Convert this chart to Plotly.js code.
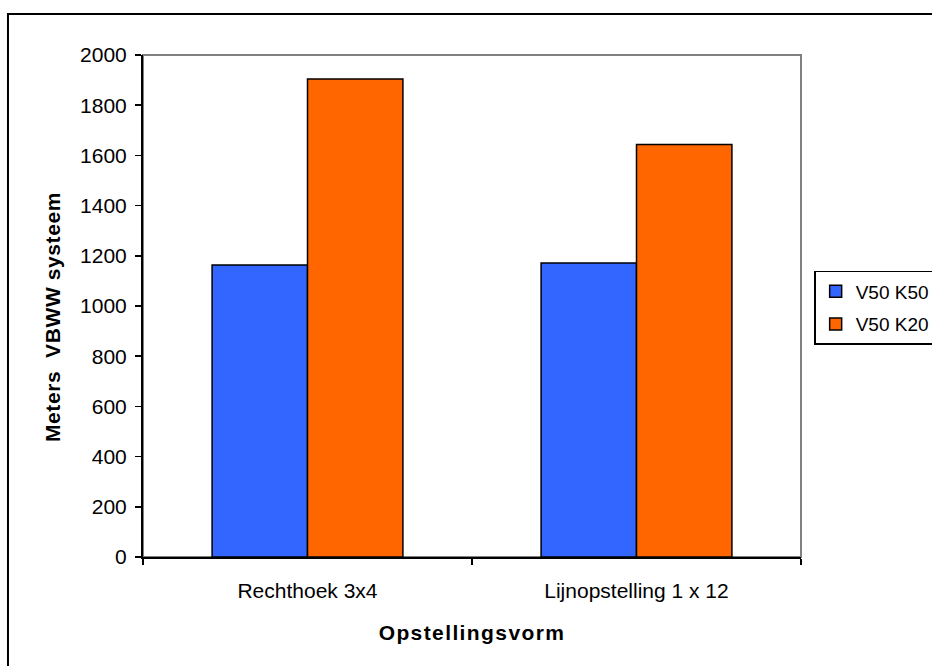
<!DOCTYPE html>
<html>
<head>
<meta charset="utf-8">
<script src="https://cdn.plot.ly/plotly-3.0.1.min.js"></script>
<style>
html,body{margin:0;padding:0;background:#fff;overflow:hidden;}
#chart{width:932px;height:666px;}
.xtitle {letter-spacing: 1.4px;}
.annotation-text {letter-spacing: 0.6px;}
</style>
</head>
<body>
<div id="chart"></div>
<script>
const categories = ["Rechthoek 3x4", "Lijnopstelling 1 x 12"];
const seriesNames = ["V50 K50", "V50 K20"];
const valuesK50 = [1163, 1171];
const valuesK20 = [1904, 1643];
const yTicks = [0, 200, 400, 600, 800, 1000, 1200, 1400, 1600, 1800, 2000];
const yTitle = "Meters  VBWW systeem";
const xTitle = "Opstellingsvorm";

const fam = "Liberation Sans, Arial, sans-serif";
const font = {family: fam, size: 21, color: "#000"};

const traces = [
  {type: "bar", name: seriesNames[0], x: categories, y: valuesK50,
   marker: {color: "#3366FF", line: {color: "#000", width: 1.5}}, legendgroup: "a"},
  {type: "bar", name: seriesNames[1], x: categories, y: valuesK20,
   marker: {color: "#FF6600", line: {color: "#000", width: 1.5}}, legendgroup: "b"}
];

const layout = {
  width: 932, height: 666,
  margin: {l: 143, r: 131, t: 55, b: 109, autoexpand: false},
  paper_bgcolor: "#fff", plot_bgcolor: "#fff",
  font: font,
  barmode: "group", bargap: 0.42, bargroupgap: 0,
  showlegend: true,
  legend: {x: 1.02, y: 0.57, xanchor: "left", yanchor: "top",
    bordercolor: "#000", borderwidth: 1.5, bgcolor: "#fff",
    font: {family: fam, size: 19, color: "#000"},
    traceorder: "grouped", tracegroupgap: 5, itemclick: false},
  xaxis: {
    type: "category", showline: true, linecolor: "#000", linewidth: 2,
    ticks: "outside", tickson: "boundaries", ticklen: 6, tickcolor: "#000", tickwidth: 1.5,
    ticklabelstandoff: 14,
    showgrid: false, zeroline: false, fixedrange: true,
    tickfont: {family: fam, size: 21, color: "#000"},
    title: {text: "<b>" + xTitle + "</b>", standoff: 24, font: {family: fam, size: 21, color: "#000"}}
  },
  yaxis: {
    range: [0, 2000], tickvals: yTicks, ticktext: yTicks.map(String),
    showline: true, linecolor: "#000", linewidth: 2,
    ticks: "outside", ticklen: 6, tickcolor: "#000", tickwidth: 1.5,
    ticklabelstandoff: 4,
    showgrid: false, zeroline: false, fixedrange: true,
    tickfont: {family: fam, size: 21, color: "#000"}
  },
  annotations: [
    {text: "<b>" + yTitle + "</b>", xref: "paper", yref: "paper", x: -0.1383, y: 0.478,
     xanchor: "center", yanchor: "middle", textangle: -90, showarrow: false,
     font: {family: fam, size: 21, color: "#000"}}
  ],
  shapes: [
    {type: "rect", xref: "paper", yref: "paper", x0: 0, x1: 1, y0: 0, y1: 1,
     line: {color: "#808080", width: 2}, layer: "below"},
    {type: "rect", xref: "paper", yref: "paper", x0: -0.2052, x1: 1.5, y0: -0.5, y1: 1.0817,
     line: {color: "#000", width: 2}, layer: "below"}
  ]
};

Plotly.newPlot("chart", traces, layout, {displayModeBar: false, staticPlot: true});
</script>
</body>
</html>
